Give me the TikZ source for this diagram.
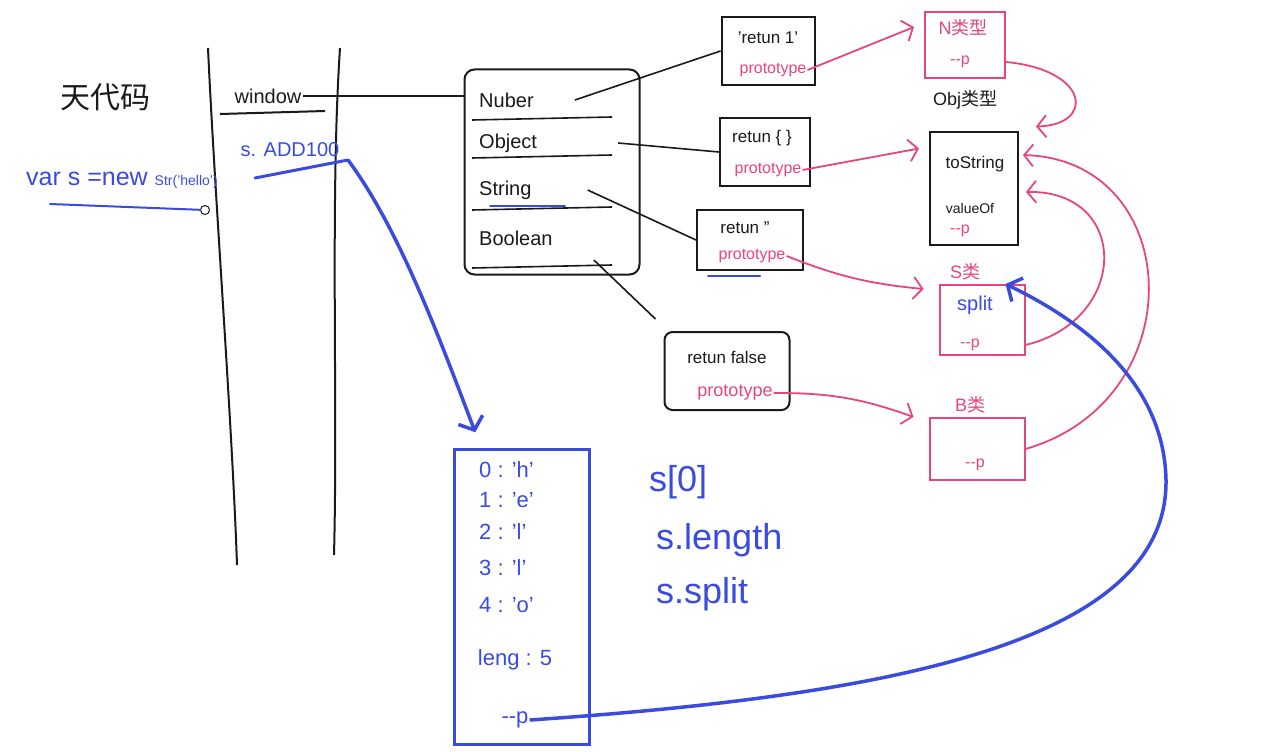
\documentclass[tikz,border=0pt]{standalone}
\usepackage{fontspec}
\setmainfont{Liberation Sans}
\newfontfamily\cjk{Noto Sans CJK SC}
\usetikzlibrary{arrows.meta,positioning,calc}
\definecolor{ink}{HTML}{1A1A1A}
\definecolor{penpink}{HTML}{E8457F}
\definecolor{penblue}{HTML}{3A4BE0}
\tikzset{
  hw/.style={inner sep=1pt,text=#1,font=\fontsize{20}{22}\selectfont},
  hw/.default=ink,
  sm/.style={inner sep=1pt,text=#1,font=\fontsize{16}{18}\selectfont},
  sm/.default=penpink,
  cell/.style={draw=#1,line width=2pt,rectangle,inner sep=0pt},
  cell/.default=ink,
  wire/.style={draw=ink,line width=1.6pt},
  col/.style={draw=ink,line width=2pt},
  bl/.style={draw=penblue,line width=3pt,line cap=round},
  parr/.style={-{Straight Barb[length=9pt,width=22pt]},draw=penpink,line width=1.8pt},
  barr/.style={-{Straight Barb[length=11pt,width=26pt]},draw=penblue,line width=3.5pt},
}
\begin{document}
\begin{tikzpicture}[x=1pt,y=-1pt]
        \fill[white] (0,0) rectangle (1285,752);
        \useasboundingbox (0,0) rectangle (1285,752);

        \node[hw,font=\cjk\fontsize{30}{30}\selectfont] (title) at (105,97) {天代码};
        \draw[col] (208,48) .. controls (215,200) and (232,420) .. (237,565);
        \draw[col] (340,48) .. controls (330,200) and (338,400) .. (334,555);

        \node[hw] (win) at (268,96) {window};
        \draw[col] (220,114) -- (325,111);
        \node[hw=penblue] (sref) at (290,150) {s. ADD100};
        \coordinate (sadd) at (348,160);
        \draw[bl] (255,178) -- (sadd);
        \node[hw=penblue,anchor=west,font=\fontsize{25}{25}\selectfont] (decl) at (25,180) {var s =new {\fontsize{14}{14}\selectfont Str('hello')}};
        \node[circle,draw=ink,fill=white,line width=1pt,minimum size=9pt,inner sep=0pt] (dot) at (205,210) {};
        \draw[bl,line width=2pt] (50,204) -- (dot);

        \node[cell,rounded corners=10pt,minimum width=175,minimum height=205] (glob) at (552,172) {};
        \foreach \n/\t/\y in {num/Nuber/100,obj/Object/143,str/String/190,boo/Boolean/238}
          \node[hw,anchor=west] (\n) at (478,\y) {\t};
        \foreach \y in {120,158,210,268} \draw[wire] (472,\y) -- (612,\y-3);
        \draw[bl,line width=2pt] (490,206) -- (565,206);
        \draw[wire] (win.east) -- (win.east -| glob.west);

        \node[cell,minimum width=93,minimum height=67] (f1) at (768,51) {};
        \node[sm=ink,font=\fontsize{17}{17}\selectfont] (r1) at (768,38) {'retun 1'};
        \node[sm] (p1) at (773,70) {prototype};
        \node[cell,minimum width=90,minimum height=68] (f2) at (765,152) {};
        \node[sm=ink,font=\fontsize{17}{17}\selectfont] (r2) at (762,138) {retun \{ \}};
        \node[sm] (p2) at (768,170) {prototype};
        \node[cell,minimum width=106,minimum height=60] (f3) at (750,240) {};
        \node[sm=ink,font=\fontsize{17}{17}\selectfont] (r3) at (745,228) {retun ''};
        \node[sm] (p3) at (752,256) {prototype};
        \draw[bl,line width=2pt] (708,276) -- (760,276);
        \node[cell,rounded corners=8pt,minimum width=125,minimum height=78] (f4) at (727,371) {};
        \node[sm=ink,font=\fontsize{17}{17}\selectfont] (r4) at (727,357) {retun false};
        \node[sm,font=\fontsize{18}{18}\selectfont] (p4) at (735,393) {prototype};

        \draw[wire] ([xshift=40pt]num.east) -- (f1.west);
        \draw[wire] ([xshift=80pt]obj.east) -- (f2.west);
        \draw[wire] ([xshift=55pt]str.east) -- (f3.west);
        \draw[wire] ([shift={(40,22)}]boo.east) -- ([shift={(-8,-12)}]f4.north west);

        \node[cell=penpink,minimum width=80,minimum height=66] (nb) at (965,45) {};
        \node[sm,font=\fontsize{18}{18}\selectfont] (nl) at (963,28) {N{\cjk 类型}};
        \node[sm] (np) at (960,62) {-{}-p};
        \node[hw,font=\fontsize{18}{18}\selectfont] (ol) at (965,100) {Obj{\cjk 类型}};
        \node[cell,minimum width=88,minimum height=113] (ob) at (974,188) {};
        \node[hw,font=\fontsize{17}{17}\selectfont] (ts) at (975,164) {toString};
        \node[hw,font=\fontsize{14}{14}\selectfont] (vo) at (970,208) {valueOf};
        \node[sm] (op) at (960,231) {-{}-p};
        \node[sm,font=\fontsize{18}{18}\selectfont] (sl) at (965,272) {S{\cjk 类}};
        \node[cell=penpink,minimum width=85,minimum height=70] (sb) at (982,320) {};
        \node[hw=penblue] (spl) at (975,305) {split};
        \node[sm] (sp) at (970,345) {-{}-p};
        \node[sm,font=\fontsize{18}{18}\selectfont] (bl) at (970,405) {B{\cjk 类}};
        \node[cell=penpink,minimum width=95,minimum height=62] (bb) at (977,449) {};
        \node[sm] (bp) at (975,465) {-{}-p};

        \draw[parr] (p1.east) -- ([shift={(-10,16)}]nb.north west);
        \draw[parr] (p2.east) -- ([shift={(-10,18)}]ob.north west);
        \draw[parr] (p3.east) to[bend right=8] ([shift={(-15,5)}]sb.north west);
        \draw[parr] (p4.east) to[bend left=10] ([xshift=-15pt]bb.north west);
        \draw[parr] (nb.east |- np) .. controls (1090,70) and (1095,125) .. ([shift={(17,-4)}]ob.north east);
        \draw[parr] (sb.east |- sp) .. controls (1130,320) and (1130,190) .. ([shift={(7,4)}]ob.east);
        \draw[parr] (bb.east) .. controls (1195,400) and (1185,160) .. ([shift={(4,-33)}]ob.east);

        \node[cell=penblue,line width=2.5pt,minimum width=135,minimum height=295] (mem) at (522,597) {};
        \foreach \k/\v/\y in {0/h/470,1/e/500,2/l/532,3/l/568,4/o/605}
          \node[hw=penblue,anchor=west,font=\fontsize{22}{22}\selectfont] (m\k) at (478,\y) {\k{} : '\v'};
        \node[hw=penblue,font=\fontsize{22}{22}\selectfont] (mlen) at (515,660) {leng : 5};
        \node[hw=penblue,font=\fontsize{22}{22}\selectfont] (mp) at (515,720) {-{}-p};

        \draw[barr] (sadd) .. controls (400,230) and (440,340) .. ([shift={(22,-16)}]mem.north west);
        \draw[barr] (mp.east) .. controls (900,695) and (1168,640) .. (1166,480)
          .. controls (1164,380) and (1080,320) .. ([xshift=-20pt]sb.north east);

        \node[hw=penblue,font=\fontsize{36}{36}\selectfont,anchor=west] (n1) at (648,482) {s[0]};
        \node[hw=penblue,font=\fontsize{36}{36}\selectfont,anchor=west] (n2) at (655,540) {s.length};
        \node[hw=penblue,font=\fontsize{36}{36}\selectfont,anchor=west] (n3) at (655,594) {s.split};
\end{tikzpicture}
\end{document}
